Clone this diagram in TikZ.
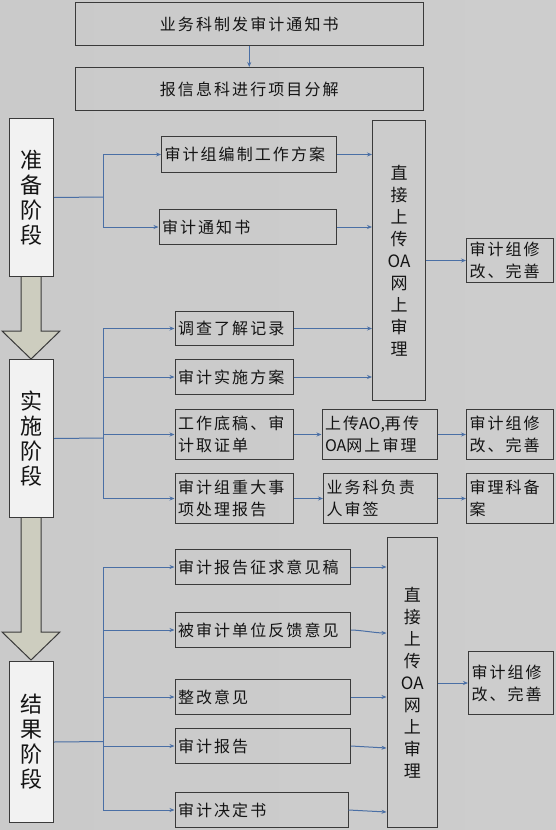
\documentclass[tikz,border=0pt]{standalone}
\usepackage{fontspec}
\setmainfont[LetterSpace=13]{Noto Sans CJK SC}
\newfontfamily\stagefont{Noto Sans CJK SC}
\usetikzlibrary{arrows.meta}
\definecolor{lnc}{HTML}{4A6FA5}
\definecolor{bd}{HTML}{3A3A3A}
\definecolor{txt}{HTML}{141414}
\definecolor{stagefill}{HTML}{F2F2F2}
\definecolor{blockfill}{HTML}{CDCDBF}
\definecolor{bgL}{HTML}{CACACA}
\definecolor{bgM}{HTML}{E6E6E6}
\definecolor{bgR}{HTML}{CDCDCD}
\tikzset{
  box/.style={draw=bd, line width=1pt, inner xsep=3pt, inner ysep=0pt, anchor=north west,
    align=left, text=txt, font=\fontsize{16}{22}\selectfont},
  cbox/.style={box, align=center},
  tallbox/.style={box, inner xsep=0pt, align=center, font=\stagefont\fontsize{17}{22}\selectfont},
  stagebox/.style={draw=bd, line width=1pt, fill=stagefill, anchor=north west, inner sep=0pt,
    align=center, text=txt, font=\stagefont\fontsize{22}{25}\selectfont},
  conn/.style={draw=lnc, line width=1pt, -{Stealth[length=5pt,width=4pt]}},
  wire/.style={draw=lnc, line width=1pt},
  blockarrow/.style={draw=bd, line width=1pt, fill=blockfill, line join=miter},
}
\begin{document}
\begin{tikzpicture}[x=1pt,y=-1pt]
\useasboundingbox (0,0) rectangle (556,830);
\shade[left color=bgL, middle color=bgM, right color=bgR] (0,0) rectangle (556,830);

% block arrows between stages
\draw[blockarrow] (21,276) -- (21,331) -- (2,331) -- (31,359) -- (60,331) -- (41,331) -- (41,276) -- cycle;
\draw[blockarrow] (21,517) -- (21,632) -- (2,632) -- (31,660) -- (60,632) -- (41,632) -- (41,517) -- cycle;

% top
\node[cbox, minimum width=348.5pt, text width=342.5pt, minimum height=43pt] (top1) at (74.5,2) {业务科制发审计通知书};
\node[cbox, minimum width=348.5pt, text width=342.5pt, minimum height=43pt] (top2) at (74.5,67) {报信息科进行项目分解};

% stages
\node[stagebox, minimum width=44pt, text width=44pt, minimum height=158pt] (s1) at (9,118) {准\\备\\阶\\段};
\node[stagebox, minimum width=44pt, text width=44pt, minimum height=158pt] (s2) at (9,359) {实\\施\\阶\\段};
\node[stagebox, minimum width=44pt, text width=44pt, minimum height=161pt] (s3) at (9,661) {结\\果\\阶\\段};

% stage 1
\node[box, minimum width=175pt, text width=169pt, minimum height=36pt] (a1) at (161,136) {审计组编制工作方案};
\node[box, minimum width=177.5pt, text width=171.5pt, minimum height=35pt] (a2) at (158.5,209) {审计通知书};
\node[tallbox, minimum width=53pt, text width=53pt, minimum height=280pt] (big1) at (372,120) {直\\接\\上\\传\\OA\\网\\上\\审\\理};
\node[box, minimum width=87pt, text width=81pt, minimum height=44pt] (r1) at (466,238) {审计组修\\改、完善};

% stage 2
\node[box, minimum width=118pt, text width=112pt, minimum height=34pt] (b1) at (174.5,311) {调查了解记录};
\node[box, minimum width=118pt, text width=112pt, minimum height=35pt] (b2) at (174.5,359) {审计实施方案};
\node[box, minimum width=118pt, text width=112pt, minimum height=50pt] (b3) at (174.5,409) {工作底稿、审\\计取证单};
\node[box, minimum width=115.5pt, text width=109.5pt, minimum height=50pt] (c3) at (321.5,409) {上传{\stagefont AO,}再传\\{\stagefont OA}网上审理};
\node[box, minimum width=87pt, text width=81pt, minimum height=50pt] (d3) at (466,409) {审计组修\\改、完善};
\node[box, minimum width=118pt, text width=112pt, minimum height=50pt] (b4) at (174.5,473) {审计组重大事\\项处理报告};
\node[box, minimum width=114pt, text width=108pt, minimum height=50pt] (c4) at (323,473) {业务科负责\\人审签};
\node[box, minimum width=87pt, text width=81pt, minimum height=50pt] (d4) at (466,473) {审理科备\\案};

% stage 3
\node[box, minimum width=175.5pt, text width=169.5pt, minimum height=35pt] (e1) at (174.5,549) {审计报告征求意见稿};
\node[box, minimum width=175.5pt, text width=169.5pt, minimum height=35pt] (e2) at (174.5,612) {被审计单位反馈意见};
\node[box, minimum width=175.5pt, text width=169.5pt, minimum height=35pt] (e3) at (174.5,679) {整改意见};
\node[box, minimum width=175.5pt, text width=169.5pt, minimum height=35pt] (e4) at (174.5,728) {审计报告};
\node[box, minimum width=173pt, text width=167pt, minimum height=35pt] (e5) at (174.5,792) {审计决定书};
\node[tallbox, minimum width=50.5pt, text width=50.5pt, minimum height=290pt] (big2) at (386.5,537) {直\\接\\上\\传\\OA\\网\\上\\审\\理};
\node[box, minimum width=85pt, text width=79pt, minimum height=63pt] (r3) at (468,651) {审计组修\\改、完善};

% connectors
\draw[conn] (top1.south) -- (top2.north);

\coordinate (j1) at (103,197);
\draw[wire] (s1.east) -- (j1);
\draw[conn] (j1) |- (a1.west);
\draw[conn] (j1) |- (a2.west);
\draw[conn] (a1.east) -- (a1.east -| big1.west);
\draw[conn] (a2.east) -- (a2.east -| big1.west);
\draw[conn] (big1.east |- r1.west) -- (r1.west);

\coordinate (j2) at (103,438);
\draw[wire] (s2.east) -- (j2);
\draw[conn] (j2) |- (b1.west);
\draw[conn] (j2) |- (b2.west);
\draw[conn] (j2) |- (b3.west);
\draw[conn] (j2) |- (b4.west);
\draw[conn] (b1.east) -- (b1.east -| big1.west);
\draw[conn] (b2.east) -- (b2.east -| big1.west);
\draw[conn] (b3) -- (c3);
\draw[conn] (c3) -- (d3);
\draw[conn] (b4) -- (c4);
\draw[conn] (c4) -- (d4);

\coordinate (j3) at (103,741.5);
\draw[wire] (s3.east) -- (j3);
\draw[conn] (j3) |- (e1.west);
\draw[conn] (j3) |- (e2.west);
\draw[conn] (j3) |- (e3.west);
\draw[conn] (j3) |- (e4.west);
\draw[conn] (j3) |- (e5.west);
\draw[conn] (e1.east) -- (e1.east -| big2.west);
\draw[conn] (e2.east) .. controls +(8,0) and +(-10,0) .. ([yshift=-3pt]e2.east -| big2.west);
\draw[conn] (e3.east) -- (e3.east -| big2.west);
\draw[conn] (e4.east) -- ([yshift=-2pt]e4.east -| big2.west);
\draw[conn] (e5.east) -- ([yshift=-2pt]e5.east -| big2.west);
\draw[conn] (big2.east |- r3.west) -- (r3.west);
\end{tikzpicture}
\end{document}
